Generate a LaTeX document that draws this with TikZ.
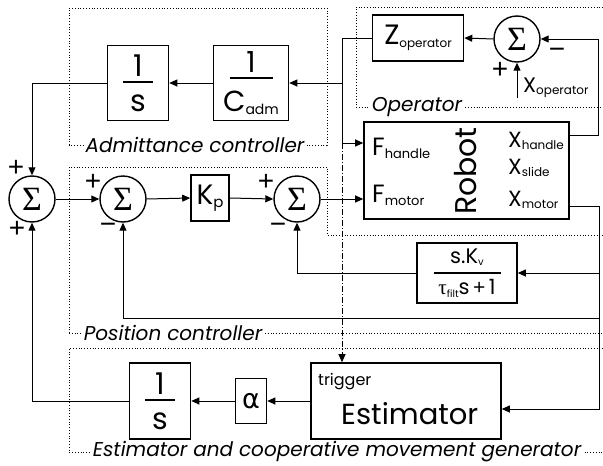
\documentclass[tikz,border=0pt]{standalone}
\usepackage[no-math]{fontspec}
\setmainfont{Poppins}
\newfontfamily\grkserif{Liberation Serif}
\newfontfamily\grksans{DejaVu Sans}
\newfontfamily\signfont{Liberation Sans}
\usetikzlibrary{arrows.meta}
\newcommand{\subx}[2][12]{\raisebox{-0.12em}{\fontsize{#1}{#1}\selectfont #2}}
\newcommand{\fsz}[1]{\fontsize{#1}{#1}\selectfont}
% #1 bar width, #2 numerator, #3 denominator, #4 gap above bar, #5 gap below bar
\newcommand{\fracx}[5]{\vbox{\hbox to #1{\hss#2\hss}\kern#4\hrule height 1.6pt\kern#5\hbox to #1{\hss#3\hss}}}
\begin{document}
\begin{tikzpicture}[x=1pt,y=-1pt,
  blk/.style={draw, line width=1.6pt, inner sep=0pt},
  sumc/.style={draw, circle, line width=1.4pt, minimum size=46pt, inner sep=0pt, font=\grkserif\fsz{34}},
  conn/.style={line width=1pt},
  arr/.style={line width=1pt, -{Triangle[length=8pt,width=7pt]}},
  grp/.style={dotted, line width=0.8pt},
  grplabel/.style={fill=white, inner sep=2pt, font=\itshape\fsz{20}},
  sgn/.style={inner sep=0pt, font=\signfont\fsz{28}},
  txt/.style={inner sep=0pt, anchor=base west}
]
\useasboundingbox (0,0) rectangle (603,466);

% groups
\draw[grp] (69,145) -- (69,8) -- (327,8) -- (327,145) -- cycle;
\node[grplabel] (gadm) at (195,145) {Admittance controller};
\draw[grp] (603,7) -- (356,7) -- (356,107) -- (603,107);
\node[grplabel] (gop) at (417,107) {Operator};
\draw[grp] (69,333) -- (69,167) -- (327,167) -- (327,235) -- (603,235);
\draw[grp] (69,333) -- (603,333);
\node[grplabel] (gpos) at (173,333) {Position controller};
\draw[grp] (603,348) -- (69,348) -- (69,452) -- (603,452);
\node[grplabel] (gest) at (337,452) {Estimator and cooperative movement generator};

% blocks
\node[blk, minimum width=61pt, minimum height=75pt] (a1s) at (138,83)
  {\fsz{30}\fracx{30pt}{1}{s}{5pt}{12pt}};
\node[blk, minimum width=75pt, minimum height=75pt] (acadm) at (251,83)
  {\fsz{29}\fracx{43pt}{1}{C\subx[14]{adm}}{5pt}{12pt}};
\node[blk, minimum width=91pt, minimum height=46pt] (zop) at (418,38)
  {\fsz{28}Z\subx[12]{operator}};
\node[sumc] (sop) at (517,39) {Σ};
\node[blk, minimum width=205pt, minimum height=97pt] (robot) at (466.5,170.5) {};
\node[txt, font=\fsz{25}] (fh) at (372,155) {F\subx[13]{handle}};
\node[txt, font=\fsz{25}] (fm) at (372,202) {F\subx[13]{motor}};
\node[inner sep=0pt, rotate=90, font=\fsz{30}] (rtxt) at (466,171) {Robot};
\node[txt, font=\fsz{22}] (xh) at (508,147) {X\subx[12]{handle}};
\node[txt, font=\fsz{22}] (xs) at (508,174) {X\subx[12]{slide}};
\node[txt, font=\fsz{22}] (xm) at (508,206) {X\subx[12]{motor}};

\node[sumc] (s1) at (32,199) {Σ};
\node[sumc] (s2) at (123,199) {Σ};
\node[blk, minimum width=38pt, minimum height=46pt] (kp) at (210,198) {\fsz{28}K\subx[15]{p}};
\node[sumc] (s3) at (297,199) {Σ};

\node[blk, minimum width=100pt, minimum height=60pt] (filt) at (467,273)
  {\fsz{21}\fracx{67pt}{s.K\subx[10]{v}}{{\grkserif τ}\subx[10]{filt}s\,{\signfont +}\,1}{6pt}{6pt}};

\node[blk, minimum width=61pt, minimum height=76pt] (b1s) at (160,401)
  {\fsz{30}\fracx{30pt}{1}{s}{5pt}{12pt}};
\node[blk, minimum width=31pt, minimum height=45pt] (alpha) at (251,401) {\grksans\fsz{27}α};
\node[blk, minimum width=190pt, minimum height=76pt] (est) at (406,401) {};
\node[txt, font=\fsz{16}] (trig) at (318,385) {trigger};
\node[txt, font=\fsz{29}] (etxt) at (341,424) {Estimator};

% signs
\node[sgn] (p0) at (557,53) {−};
\node[sgn] (p1) at (500,70) {+};
\node[sgn] (p2) at (16,168) {+};
\node[sgn] (p3) at (17,229) {+};
\node[sgn] (p4) at (93,182) {+};
\node[sgn] (p5) at (108,228) {−};
\node[sgn] (p6) at (266,182) {+};
\node[sgn] (p7) at (278,228) {−};
\node[txt, font=\fsz{21}] (xop) at (523,92) {X\subx[12]{operator}};

% coordinates
\coordinate (jz) at (342,83);
\coordinate (jh) at (342,143);
\coordinate (xin) at (517,98);
\coordinate (oh) at (569,135);
\coordinate (om) at (569,206);
\coordinate (rh) at (598,135);
\coordinate (rm) at (599,206);
\coordinate (rest) at (599,409);
\coordinate (rfil) at (599,273);
\coordinate (rpos) at (599,318);
\coordinate (lpos) at (123,318);

% connectors
\draw[arr] (zop.west) -| (jh) -- (jh -| robot.west);
\draw[arr] (jz) -- (acadm.east);
\draw[arr] (acadm.west) -- (a1s.east);
\draw[arr] (a1s.west) -| (s1.north);
\draw[arr] (s1.east) -- (s2.west);
\draw[arr] (s2.east) -- (kp.west);
\draw[arr] (kp.east) -- (s3.west);
\draw[arr] (s3.east) -- (s3.east -| robot.west);
\draw[arr] (oh) -- (rh) |- (sop.east);
\draw[arr] (sop.west) -- (zop.east);
\draw[arr] (xin) -- (sop.south);
\draw[arr] (om) -- (rm) -- (rest) -- (rest -| est.east);
\draw[arr] (rfil) -- (filt.east);
\draw[conn] (rpos) -- (lpos);
\draw[arr] (lpos) -- (s2.south);
\draw[arr] (filt.west) -| (s3.south);
\draw[arr] (est.west) -- (alpha.east);
\draw[arr] (alpha.west) -- (b1s.east);
\draw[arr] (b1s.west) -| (s1.south);
\draw[arr, dash pattern=on 6pt off 2pt on 1pt off 2pt] (jh) -- (jh |- est.north);
\end{tikzpicture}
\end{document}
